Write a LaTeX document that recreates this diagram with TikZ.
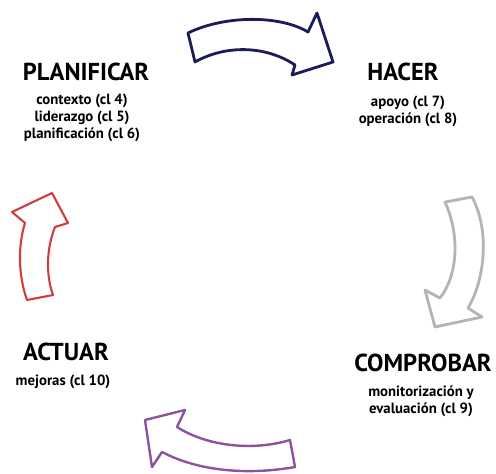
\documentclass[tikz,border=0pt]{standalone}
\usepackage{fontspec}
\setmainfont{PT Sans}
\begin{document}
\begin{tikzpicture}[x=1pt,y=-1pt,
  title/.style={font=\bfseries\fontsize{24.5}{28}\selectfont, inner sep=0pt},
  sub/.style={font=\bfseries\fontsize{14.8}{16.8}\selectfont, align=center, inner sep=0pt},
  arrowshape/.style={line width=2.8pt, line join=round, fill=white}]
\useasboundingbox (0,0) rectangle (496,474);
\definecolor{navy}{HTML}{1C1C5A}
\definecolor{grayarr}{HTML}{B4B4B4}
\definecolor{purplearr}{HTML}{8A559E}
\definecolor{redarr}{HTML}{D23C3C}
% texts
\node[title] (plan) at (86,72) {PLANIFICAR};
\node[sub] (plansub) at (82,118) {contexto (cl 4)\\liderazgo (cl 5)\\planificación (cl 6)};
\node[title] (hacer) at (403,72) {HACER};
\node[sub] (hacersub) at (408,111) {apoyo (cl 7)\\operación (cl 8)};
\node[title] (actuar) at (66,352) {ACTUAR};
\node[sub] (actuarsub) at (63,382) {mejoras (cl 10)};
\node[title] (comp) at (423,363) {COMPROBAR};
\node[sub] (compsub) at (421,401) {monitorización y\\evaluación (cl 9)};
% arrows
\draw[arrowshape, draw=navy] (188,33) .. controls (225,15) and (280,15) .. (308,32) -- (317,13) -- (333,62) -- (292,75) -- (295,65) .. controls (265,45) and (225,45) .. (195,62) -- cycle;
\draw[arrowshape, draw=grayarr] (445,202) -- (472,197) .. controls (490,230) and (485,280) .. (468,308) -- (482,317) -- (435,327) -- (425,290) -- (440,298) .. controls (458,275) and (460,235) .. (445,202) -- cycle;
\draw[arrowshape, draw=purplearr, line width=2.4pt] (290,440) .. controls (250,452) and (205,445) .. (177,427) -- (185,410) -- (145,420) -- (152,467) -- (162,452) .. controls (200,472) and (250,475) .. (295,467) -- cycle;
\draw[arrowshape, draw=redarr, line width=2.1pt] (27,300) .. controls (18,275) and (18,245) .. (25,223) -- (12,212) -- (52,193) -- (68,223) -- (55,227) .. controls (46,250) and (46,275) .. (53,295) -- cycle;
\end{tikzpicture}
\end{document}
